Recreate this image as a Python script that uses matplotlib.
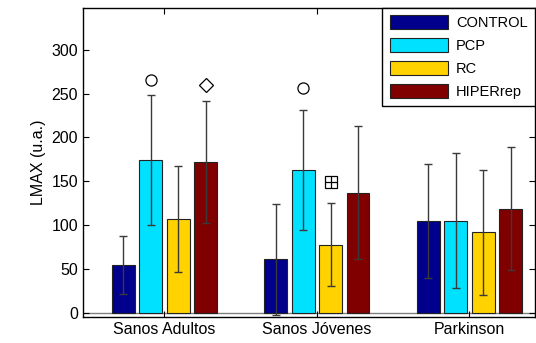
import numpy as np
import matplotlib.pyplot as plt

plt.rcParams['font.family'] = ['Liberation Sans', 'DejaVu Sans']

# data
groups = ['Sanos Adultos', 'Sanos Jóvenes', 'Parkinson']
series = ['CONTROL', 'PCP', 'RC', 'HIPERrep']
colors = ['#00008C', '#00E1FF', '#FFD200', '#800000']

means = {
    'CONTROL':  [55, 61, 105],
    'PCP':      [174, 163, 105],
    'RC':       [107, 78, 92],
    'HIPERrep': [172, 137, 119],
}
errs = {
    'CONTROL':  [33, 63, 65],
    'PCP':      [74, 68, 77],
    'RC':       [60, 47, 71],
    'HIPERrep': [69, 76, 70],
}

# significance markers: (group index, series, y value, marker)
marks = [
    (0, 'PCP', 265, 'o'),
    (0, 'HIPERrep', 260, 'D'),
    (1, 'PCP', 256, 'o'),
    (1, 'RC', 149, 'sq+'),
]

fig = plt.figure(figsize=(5.36, 3.43), dpi=100)
ax = fig.add_axes([0.155, 0.076, 0.843, 0.902])

x = np.arange(1, len(groups) + 1)
step = 0.18
width = 0.15
offsets = (np.arange(len(series)) - 1.5) * step

for i, s in enumerate(series):
    ax.bar(x + offsets[i], means[s], width, color=colors[i],
           edgecolor='#222222', linewidth=0.8, label=s, zorder=2)
    ax.errorbar(x + offsets[i], means[s], yerr=errs[s], fmt='none',
                ecolor='#3a3a3a', elinewidth=1.0, capsize=3, capthick=1.0, zorder=3)

si = {s: i for i, s in enumerate(series)}
for g, s, yv, m in marks:
    xv = x[g] + offsets[si[s]]
    if m == 'sq+':
        ax.plot(xv, yv, marker='s', ms=8, mfc='none', mec='black', mew=0.9, zorder=4)
        ax.plot(xv, yv, marker='+', ms=8, mec='black', mew=0.9, zorder=4)
    else:
        ax.plot(xv, yv, marker=m, ms=8 if m == 'o' else 7, mfc='none', mec='black', mew=0.9, zorder=4)

ax.axhline(0, color='#808080', linewidth=1.0, zorder=1)

ax.set_xlim(0.467, 3.43)
ax.set_ylim(-4.5, 348)
ax.set_xticks(x)
ax.set_xticklabels(groups, fontsize=11.5)
ax.set_yticks(np.arange(0, 301, 50))
ax.tick_params(axis='y', labelsize=11.5)
ax.tick_params(direction='in', top=True, right=True, length=4, width=0.8)
ax.set_ylabel('LMAX (u.a.)', fontsize=11.5)
for sp in ax.spines.values():
    sp.set_linewidth(1.0)

leg = ax.legend(loc='upper right', fontsize=10.5, handlelength=4.0, handleheight=1.1,
                borderaxespad=0, labelspacing=0.55, handletextpad=0.55,
                fancybox=False, framealpha=1, edgecolor='black', borderpad=0.5)
leg.get_frame().set_linewidth(1.0)

plt.savefig('out.png', dpi=100)
